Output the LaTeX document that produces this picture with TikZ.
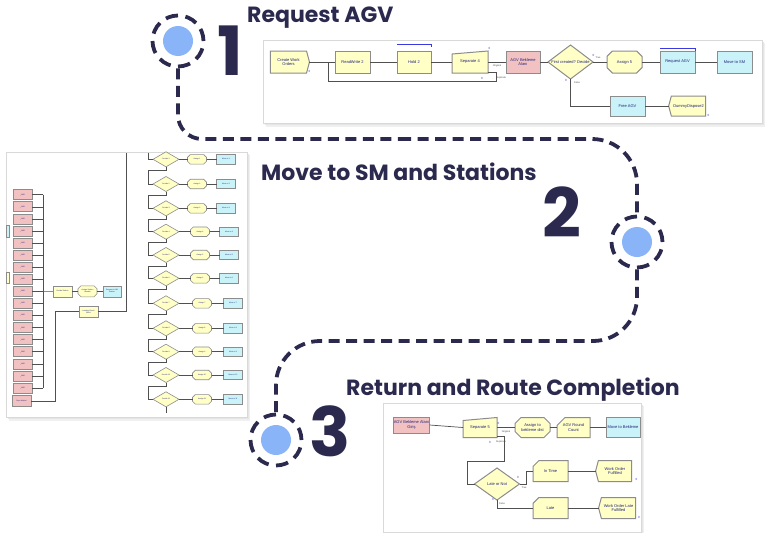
\documentclass[tikz,border=0pt]{standalone}
\usepackage{fontspec}
\newfontfamily\headfont{Poppins}
\newfontfamily\modfont{Liberation Sans}
\usetikzlibrary{shapes.geometric,shapes.symbols,shapes.misc,calc}
\definecolor{navy}{HTML}{2B2A4E}
\definecolor{dotblue}{HTML}{8AB4F8}
\definecolor{myyel}{HTML}{FFFFC6}
\definecolor{mypink}{HTML}{F2C2C2}
\definecolor{mycyan}{HTML}{C9F3F8}
\definecolor{modtext}{HTML}{22227A}
\definecolor{wire}{HTML}{505050}
\definecolor{ctr}{HTML}{3A3AE0}
\pgfdeclarelayer{bg}\pgfdeclarelayer{mid}\pgfsetlayers{bg,mid,main}
\newcommand\sepshape[1]{\begin{pgfonlayer}{mid}\filldraw[draw=black!45,line width=1pt,fill=myyel] (#1.south west) -- ($(#1.north west)+(0,3)$) -- (#1.north east) -- (#1.south east) -- cycle;\end{pgfonlayer}}
\begin{document}
\begin{tikzpicture}[x=1pt,y=-1pt,
  wire/.style={draw=wire,line width=0.7pt},
  route/.style={draw=navy,line width=3.8pt,dash pattern=on 11pt off 6.5pt},
  ring/.style={circle,draw=navy,line width=3.8pt,dash pattern=on 12.5pt off 7.5pt,minimum size=51,inner sep=0,fill=white},
  dot/.style={circle,fill=dotblue,minimum size=30,inner sep=0},
  head/.style={font=\headfont\bfseries\fontsize{22}{22}\selectfont,text=navy,inner sep=0,anchor=base west},
  num/.style={font=\headfont\bfseries\fontsize{68}{68}\selectfont,text=navy,inner sep=0,anchor=base west},
  panel/.style={fill=white,draw=black!15,line width=0.6pt},
  mod/.style={draw=black!45,line width=1pt,inner sep=0.5pt,outer sep=0pt,font=\modfont\fontsize{4}{4.6}\selectfont,text=modtext,align=center,minimum width=35,minimum height=21},
  ymod/.style={mod,fill=myyel},
  pmod/.style={mod,fill=mypink},
  cmod/.style={mod,fill=mycyan},
  create/.style={ymod,signal,signal to=east,signal pointer angle=150},
  dispose/.style={ymod,signal,signal to=west,signal pointer angle=150},
  assign/.style={ymod,chamfered rectangle,chamfered rectangle xsep=3pt,chamfered rectangle ysep=3pt},
  record/.style={ymod,chamfered rectangle,chamfered rectangle corners=north west,chamfered rectangle xsep=4pt,chamfered rectangle ysep=4pt},
  decide/.style={ymod,diamond,inner sep=0},
  sepmod/.style={mod,draw=none},
  lbl/.style={font=\modfont\fontsize{4}{4.6}\selectfont,text=modtext,inner sep=0,align=center},
  tlbl/.style={font=\modfont\fontsize{2.4}{2.6}\selectfont,text=black!70,inner sep=0},
  ctrl/.style={font=\modfont\fontsize{3}{3}\selectfont,text=ctr,inner sep=0},
  smod/.style={minimum width=19,minimum height=9.5,line width=0.6pt,font=\modfont\fontsize{1.8}{2}\selectfont},
  slbl/.style={font=\modfont\fontsize{1.8}{2}\selectfont,text=modtext,inner sep=0}
]
\useasboundingbox (0,0) rectangle (765,533);

% ---------- panels ----------
\begin{pgfonlayer}{bg}
\fill[black!6] (266,43) rectangle (765,127);
\fill[black!10] (264.5,41.5) rectangle (763.5,124.5);
\draw[panel] (263,40) rectangle (762,123);
\fill[black!6] (9,155) rectangle (250,421);
\fill[black!10] (7.5,153.5) rectangle (248.5,418.5);
\draw[panel] (6,152) rectangle (247,417);
\fill[black!6] (386,406) rectangle (644,533);
\fill[black!10] (384.5,404.5) rectangle (642.5,533);
\draw[panel] (383,403) rectangle (641,532);
\end{pgfonlayer}

% ---------- route ----------
\node[ring] (c1) at (178,41) {};
\node[dot] (c1i) at (c1) {};
\node[ring] (c2) at (637,242) {};
\node[dot] (c2i) at (c2) {};
\node[ring] (c3) at (276,440) {};
\node[dot] (c3i) at (c3) {};
\coordinate (m1) at (400,139);
\coordinate (m2) at (450,341);
\draw[route,rounded corners=24] (c1.south) |- (m1);
\draw[route,rounded corners=45] (m1) -| (c2.north);
\draw[route,rounded corners=44] (c2.south) |- (m2) -| (c3.north);

% ---------- titles ----------
\node[head] (h1) at (247,22.7) {Request AGV};
\node[head] (h2) at (261,180.5) {Move to SM and Stations};
\node[head] (h3) at (346,395) {Return and Route Completion};
\node[num] (n1) at (217,75) {1};
\node[num] (n2) at (542,237) {2};
\node[num] (n3) at (309,456) {3};

% ---------- panel 1 ----------
\node[create,minimum width=39,minimum height=22] (cwo) at (288.5,62) {Create Work\\Orders};
\node[ymod,minimum height=22] (rw2) at (352.5,62) {ReadWrite 2};
\node[ymod,minimum height=22,minimum width=34] (hold2) at (414,62) {Hold 2};
\node[sepmod,minimum height=22,minimum width=36] (sep4) at (470,62) {Separate 4};
\sepshape{sep4}
\node[pmod,minimum height=22,minimum width=34] (agvba) at (523,62) {AGV Bekleme\\Alanı};
\node[decide,minimum width=45,minimum height=34] (dec1) at (570.5,62) {};
\node[lbl] (dec1t) at (dec1) {First created? Decide};
\node[assign,minimum height=22] (as5) at (624.5,62) {Assign 5};
\node[cmod,minimum height=22] (ragv) at (677.5,62) {Request AGV};
\node[cmod,minimum height=22] (msm) at (734.5,62) {Move to SM};
\node[cmod,minimum height=20] (fagv) at (627.5,106) {Free AGV};
\node[dispose,minimum height=20,minimum width=37] (dd2) at (688.5,106) {DummyDispose2};
\draw[ctr,line width=0.6pt] ($(hold2.north west)+(0,-7)$) -- ($(hold2.north east)+(0,-7)$) -- ++(0,2.5);
\draw[ctr,line width=0.6pt] ($(ragv.north west)+(0,-3)$) -- ($(ragv.north east)+(0,-3)$) -- ++(0,2.5);
\coordinate (j1) at (328,62);
\coordinate (d4) at ($(sep4.south east)+(0,-1)$);
\draw[wire] (cwo.east) -- (rw2.west);
\draw[wire] (rw2.east) -- (hold2.west);
\draw[wire] (hold2.east) -- (sep4.west);
\draw[wire] (sep4.east) -- (agvba.west);
\draw[wire] (agvba.east) -- (dec1.west);
\draw[wire] (dec1.east) -- (as5.west);
\draw[wire] (as5.east) -- (ragv.west);
\draw[wire] (ragv.east) -- (msm.west);
\draw[wire] (dec1.south) |- (fagv.west);
\draw[wire] (fagv.east) -- (dd2.west);
\draw[wire] (d4) -- ++(8,0) -- ++(0,9) -| (j1);
\node[tlbl] (o4) at (497,66) {Original};
\node[tlbl] (u4) at (501,77.5) {Duplicate};
\node[tlbl] (t1) at (598,57.5) {True};
\node[tlbl] (f1) at (577,83) {False};
\node[ctrl] (k1) at (309.5,71) {0};
\node[ctrl] (k2) at (489.5,48) {0};
\node[ctrl] (k3) at (482,78) {0};
\node[ctrl] (k4) at (593.5,55) {0};
\node[ctrl] (k5) at (566,80) {0};
\node[ctrl] (k6) at (708.5,115) {0};

% ---------- panel 2 ----------
\foreach \i in {1,...,17}{
  \node[pmod,smod,minimum height=10] (pk\i) at (22.5,{194.7+12.08*(\i-1)}) {\_1MD};
  \coordinate (bus\i) at (43,{194.7+12.08*(\i-1)});
  \draw[wire,line width=0.5pt] (pk\i.east) -- (bus\i);
}
\draw[wire,line width=0.5pt] (bus1) -- (bus17);
\node[pmod,smod,minimum height=11] (depo) at (21.5,401) {Depo Matrisi};
\node[cmod,minimum width=3,minimum height=12,line width=0.4pt] (pc) at (7.5,231) {};
\node[ymod,minimum width=3,minimum height=11,line width=0.4pt] (py) at (7.5,277.5) {};
\node[ymod,smod,minimum height=11] (dcs) at (62.5,291.3) {Decide Station};
\node[assign,smod,minimum height=11,chamfered rectangle xsep=1.5pt,chamfered rectangle ysep=1.5pt] (asm) at (87.5,291.3) {Assign Station\\Number};
\node[cmod,smod,minimum height=11,minimum width=18] (rsm) at (112,291.3) {Request to SM\\Station};
\node[ymod,smod,minimum height=11] (lc) at (88.5,311.5) {Loading Check\\Block};
\draw[wire,line width=0.5pt] (pk9.east) -- (dcs.west);
\draw[wire,line width=0.5pt] (dcs.east) -- (asm.west);
\draw[wire,line width=0.5pt] (asm.east) -- (rsm.west);
\draw[wire,line width=0.5pt] (depo.east) -- ++(24,0) |- (lc.west);
\coordinate (top2) at (126,152.5);
\coordinate (top3) at (148,152.5);
\draw[wire,line width=0.5pt] (lc.east) -| (top2);
\foreach \i/\y/\ax/\mx in {1/159.3/197/226,2/184/197/226,3/208.3/197/226,4/231.7/200/229,5/255/200/229,6/278.3/200/229,7/303.3/202/233,8/328.3/202/233,9/351.7/202/233,10/375/202/233,11/399.3/202/233}{
  \node[decide,line width=0.6pt,minimum width=26,minimum height=15] (d\i) at (166,\y) {};
  \node[slbl] (dt\i) at (d\i) {Decide \i};
  \node[assign,smod,chamfered rectangle xsep=1.5pt,chamfered rectangle ysep=1.5pt] (a\i) at (\ax,\y) {Assign \i};
  \node[cmod,smod] (mv\i) at (\mx,\y) {Move to \i};
  \coordinate (l\i) at (148,\y);
  \draw[wire,line width=0.5pt] (d\i.east) -- (a\i.west);
  \draw[wire,line width=0.5pt] (a\i.east) -- (mv\i.west);
}
\draw[wire,line width=0.5pt] (top3) -- (l1) -- (d1.west);
\foreach \i/\j in {1/2,2/3,3/4,4/5,5/6,6/7,7/8,8/9,9/10,10/11}{
  \draw[wire,line width=0.5pt] (d\i.south) -- ++(0,3.5) -| (l\j) -- (d\j.west);
}
\draw[wire,line width=0.5pt] (d11.south) -- ++(0,6);

% ---------- panel 3 ----------
\node[pmod,minimum width=33,minimum height=16] (agvg) at (411.5,425) {AGV Bekleme Alanı\\Giriş};
\node[sepmod,minimum width=34,minimum height=20] (sep5) at (480,427.5) {Separate 5};
\sepshape{sep5}
\node[assign,minimum width=35,minimum height=20] (asb) at (532.5,427.5) {Assign to\\bekleme dist};
\node[record,minimum width=33,minimum height=20] (agvrc) at (573.5,427.5) {AGV Round\\Count};
\node[cmod,minimum width=34,minimum height=20] (mtb) at (623,427.5) {Move to Bekleme};
\node[decide,minimum width=45,minimum height=32] (lon) at (497,484) {};
\node[lbl] (lont) at (lon) {Late or Not};
\node[record,minimum width=35,minimum height=21] (intime) at (550.5,471) {In Time};
\node[dispose,minimum width=36,minimum height=21] (wof) at (615,471) {Work Order\\Fulfilled};
\node[record,minimum width=35,minimum height=21] (late) at (550.5,508) {Late};
\node[dispose,minimum width=37,minimum height=21] (wolf) at (618.5,508) {Work Order Late\\Fulfilled};
\coordinate (d5) at ($(sep5.south east)+(0,-1)$);
\coordinate (lonin) at (467,484);
\draw[wire] (agvg.east) -- (sep5.west);
\draw[wire] (sep5.east) -- (asb.west);
\draw[wire] (asb.east) -- (agvrc.west);
\draw[wire] (agvrc.east) -- (mtb.west);
\draw[wire] (d5) -- ++(7,0) -- ++(0,24.5) -| (lonin) -- (lon.west);
\draw[wire] (lon.east) -- ++(7,0) |- (intime.west);
\draw[wire] (lon.south) |- (late.west);
\draw[wire] (intime.east) -- (wof.west);
\draw[wire] (late.east) -- (wolf.west);
\node[tlbl] (o5) at (506,432) {Original};
\node[tlbl] (u5) at (501,441.5) {Duplicate};
\node[tlbl] (t5) at (524,488) {True};
\node[tlbl] (f5) at (502,503.5) {False};
\node[ctrl] (q1) at (498.5,423) {0};
\node[ctrl] (q2) at (490,442) {0};
\node[ctrl] (q3) at (518,477) {0};
\node[ctrl] (q4) at (493,499.5) {0};
\node[ctrl] (q5) at (636.5,479) {0};
\node[ctrl] (q6) at (639,517) {0};
\end{tikzpicture}
\end{document}
